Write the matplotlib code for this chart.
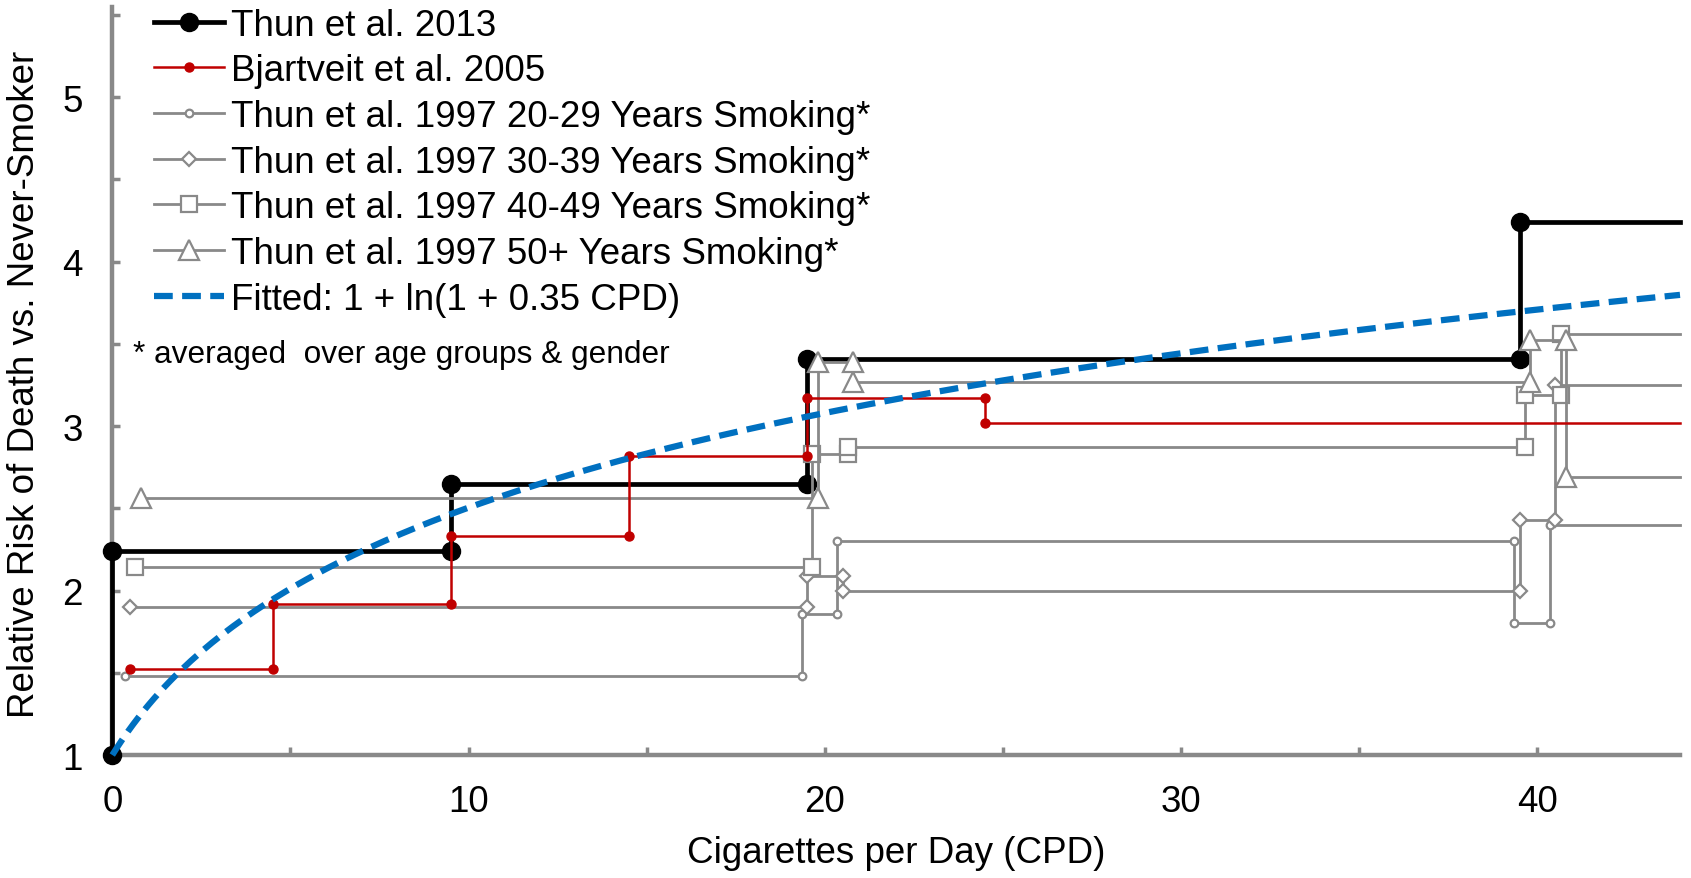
import numpy as np
import matplotlib.pyplot as plt

plt.rcParams['font.family'] = ['Liberation Sans', 'DejaVu Sans']

# Thun et al. 2013 (step points, cigarettes per day vs relative risk)
thun2013_cpd = [0, 0, 9.5, 9.5, 19.5, 19.5, 39.5, 39.5]
thun2013_rr = [1.0, 2.24, 2.24, 2.65, 2.65, 3.41, 3.41, 4.24]

# Bjartveit et al. 2005
bjart_cpd = [0.5, 4.5, 4.5, 9.5, 9.5, 14.5, 14.5, 19.5, 19.5, 24.5, 24.5]
bjart_rr = [1.52, 1.52, 1.92, 1.92, 2.33, 2.33, 2.82, 2.82, 3.17, 3.17, 3.02]

# Thun et al. 1997, by years of smoking
t97_20_cpd = [0.35, 19.35, 19.35, 20.35, 20.35, 39.35, 39.35, 40.35, 40.35]
t97_20_rr = [1.48, 1.48, 1.86, 1.86, 2.30, 2.30, 1.80, 1.80, 2.40]

t97_30_cpd = [0.5, 19.5, 19.5, 20.5, 20.5, 39.5, 39.5, 40.5, 40.5]
t97_30_rr = [1.90, 1.90, 2.09, 2.09, 2.00, 2.00, 2.43, 2.43, 3.25]

t97_40_cpd = [0.65, 19.65, 19.65, 20.65, 20.65, 39.65, 39.65, 40.65, 40.65]
t97_40_rr = [2.14, 2.14, 2.83, 2.83, 2.87, 2.87, 3.19, 3.19, 3.56]

t97_50_cpd = [0.8, 19.8, 19.8, 20.8, 20.8, 39.8, 39.8, 40.8, 40.8]
t97_50_rr = [2.56, 2.56, 3.39, 3.39, 3.27, 3.27, 3.52, 3.52, 2.69]

# fitted model from the legend: 1 + ln(1 + 0.35 CPD)
FIT_COEF = 0.35

X_MAX = 44
Y_MIN, Y_MAX = 1, 5.55

GRAY = '#898989'
FS = 26.5

fig = plt.figure(figsize=(16.91, 8.79), dpi=100)
ax = fig.add_axes([0.0664, 0.1399, 0.9271, 0.8515])


def step_series(x, y, **kw):
    # extend the last level to the right edge, no marker there
    ax.plot(x + [X_MAX], y + [y[-1]], markevery=list(range(len(x))),
            clip_on=False, **kw)


step_series(thun2013_cpd, thun2013_rr, color='black', lw=3.4, marker='o',
            ms=13, zorder=3, label='Thun et al. 2013')
step_series(bjart_cpd, bjart_rr, color='#C00000', lw=1.8, marker='o',
            ms=6.5, zorder=5, label='Bjartveit et al. 2005')

gray_kw = dict(color=GRAY, lw=2.0, mfc='white', mec=GRAY, mew=1.6, zorder=4)
step_series(t97_20_cpd, t97_20_rr, marker='o', ms=5.5,
            label='Thun et al. 1997 20-29 Years Smoking*', **gray_kw)
step_series(t97_30_cpd, t97_30_rr, marker='D', ms=7,
            label='Thun et al. 1997 30-39 Years Smoking*', **gray_kw)
step_series(t97_40_cpd, t97_40_rr, marker='s', ms=12,
            label='Thun et al. 1997 40-49 Years Smoking*', **gray_kw)
step_series(t97_50_cpd, t97_50_rr, marker='^', ms=14,
            label='Thun et al. 1997 50+ Years Smoking*', **gray_kw)

fit_cpd = np.linspace(0, X_MAX, 300)
fit_rr = 1 + np.log(1 + FIT_COEF * fit_cpd)
ax.plot(fit_cpd, fit_rr, color='#0070C0', lw=4.5, ls=(0, (3.0, 1.5)),
        zorder=6, clip_on=False, label='Fitted: 1 + ln(1 + 0.35 CPD)')

ax.set_xlim(0, X_MAX)
ax.set_ylim(Y_MIN, Y_MAX)

for side in ['top', 'right']:
    ax.spines[side].set_visible(False)
for side in ['left', 'bottom']:
    ax.spines[side].set_color(GRAY)
    ax.spines[side].set_linewidth(3.2)

ax.set_xticks([0, 10, 20, 30, 40])
ax.set_xticks([5, 15, 25, 35], minor=True)
ax.set_yticks([1, 2, 3, 4, 5])
ax.set_yticks([1.5, 2.5, 3.5, 4.5, 5.5], minor=True)
ax.tick_params(which='both', direction='in', length=6, width=2.5,
               color=GRAY, labelsize=FS, pad=21)

ax.set_xlabel('Cigarettes per Day (CPD)', fontsize=FS)
ax.xaxis.set_label_coords(0.5, -0.107)
ax.set_ylabel('Relative Risk of Death vs. Never-Smoker', fontsize=FS)
ax.yaxis.set_label_coords(-0.045, 0.496)

ax.legend(loc='upper left', bbox_to_anchor=(0.0267, 0.9987), frameon=False,
          fontsize=FS, handlelength=1.9, handletextpad=0.2,
          labelspacing=0.29, borderpad=0, borderaxespad=0)

fig.text(133 / 1691, 1 - 355 / 879, '* averaged  over age groups & gender',
         fontsize=22.8, va='center')

fig.savefig('out.png', dpi=100)
